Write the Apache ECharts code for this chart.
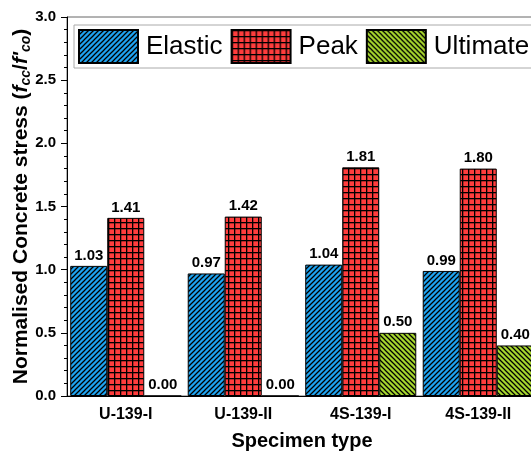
<!DOCTYPE html>
<html>
<head>
<meta charset="utf-8">
<script src="https://cdn.jsdelivr.net/npm/echarts@6/dist/echarts.min.js"></script>
<style>html,body{margin:0;padding:0;background:#fff}#c{width:531px;height:455px}</style>
</head>
<body>
<div id="c"></div>
<script>
const categories = ['U-139-I', 'U-139-II', '4S-139-I', '4S-139-II'];
const elastic = [1.03, 0.97, 1.04, 0.99];
const peak = [1.41, 1.42, 1.81, 1.80];
const ultimate = [0.00, 0.00, 0.50, 0.40];
const seriesNames = ['Elastic', 'Peak', 'Ultimate'];

const FONT = "'Liberation Sans', Arial, sans-serif";

function stripePattern(bg, dir) {
  const s = 5;
  const c = document.createElement('canvas');
  c.width = s; c.height = s;
  const g = c.getContext('2d');
  g.fillStyle = bg; g.fillRect(0, 0, s, s);
  g.strokeStyle = '#000'; g.lineWidth = 1.25;
  g.beginPath();
  if (dir === '/') {
    g.moveTo(-1, 1); g.lineTo(1, -1);
    g.moveTo(0, s); g.lineTo(s, 0);
    g.moveTo(s - 1, s + 1); g.lineTo(s + 1, s - 1);
  } else {
    g.moveTo(-1, s - 1); g.lineTo(1, s + 1);
    g.moveTo(0, 0); g.lineTo(s, s);
    g.moveTo(s - 1, -1); g.lineTo(s + 1, 1);
  }
  g.stroke();
  return { image: c, repeat: 'repeat' };
}
function gridPattern(bg) {
  const s = 6;
  const c = document.createElement('canvas');
  c.width = s; c.height = s;
  const g = c.getContext('2d');
  g.fillStyle = bg; g.fillRect(0, 0, s, s);
  g.fillStyle = '#000';
  g.fillRect(0, 0, 1.3, s);
  g.fillRect(0, 0, s, 1.3);
  return { image: c, repeat: 'repeat' };
}

const fills = [
  stripePattern('#1ea3f0', '/'),
  gridPattern('#ff3d3d'),
  stripePattern('#a6d62e', '\\')
];
const dataSets = [elastic, peak, ultimate];

const chart = echarts.init(document.getElementById('c'), null, { renderer: 'canvas' });
chart.setOption({
  animation: false,
  backgroundColor: '#fff',
  grid: {
    left: 67, top: 17, width: 470, height: 379,
    outerBoundsMode: 'none', containLabel: false,
    show: true, borderColor: '#666', borderWidth: 1, backgroundColor: 'transparent'
  },
  legend: {
    data: seriesNames,
    left: 74, top: 25, width: 480,
    itemWidth: 59, itemHeight: 33, itemGap: 8,
    padding: [4, 10, 4, 4],
    borderColor: '#aaa', borderWidth: 1,
    textStyle: { fontFamily: FONT, fontSize: 26, color: '#000', padding: [0, 0, 0, 3] },
    icon: 'rect'
  },
  xAxis: [{
    type: 'category',
    data: categories,
    name: 'Specimen type',
    nameLocation: 'middle',
    nameGap: 35,
    nameMoveOverlap: false,
    nameTextStyle: { fontFamily: FONT, fontSize: 20, fontWeight: 'bold', color: '#000' },
    axisLine: { lineStyle: { color: '#000', width: 1 } },
    axisTick: { alignWithLabel: true, length: 6, lineStyle: { color: '#000' } },
    axisLabel: { fontFamily: FONT, fontSize: 16, fontWeight: 'bold', color: '#000', margin: 11 }
  }, {
    type: 'category',
    data: categories,
    position: 'bottom',
    axisLine: { show: false },
    axisTick: { inside: true, length: 3, lineStyle: { color: '#000' } },
    axisLabel: { show: false }
  }],
  yAxis: {
    type: 'value',
    min: 0, max: 3, interval: 0.5,
    name: "{b|Normalised Concrete stress (}{i|f}{s|cc}{b|/}{i|f'}{s|co}{b|)}",
    nameLocation: 'middle',
    nameGap: 34,
    nameMoveOverlap: false,
    nameTextStyle: {
      fontFamily: FONT, fontSize: 21, fontWeight: 'bold', color: '#000',
      rich: {
        b: { fontFamily: FONT, fontSize: 21, fontWeight: 'bold', color: '#000', lineHeight: 24 },
        i: { fontFamily: FONT, fontSize: 21, fontWeight: 'bold', fontStyle: 'italic', color: '#000', lineHeight: 24 },
        s: { fontFamily: FONT, fontSize: 14, fontWeight: 'bold', fontStyle: 'italic', color: '#000', lineHeight: 24, verticalAlign: 'bottom', padding: [8, 0, 0, 0] }
      }
    },
    axisLine: { show: true, lineStyle: { color: '#000', width: 1 } },
    axisTick: { show: true, length: 6, lineStyle: { color: '#000' } },
    minorTick: { show: true, splitNumber: 5, length: 3, lineStyle: { color: '#000' } },
    splitLine: { show: false },
    axisLabel: { fontFamily: FONT, fontSize: 15, fontWeight: 'bold', color: '#000', margin: 11, formatter: v => v.toFixed(1) }
  },
  series: seriesNames.map((n, i) => ({
    name: n,
    type: 'bar',
    data: dataSets[i],
    barGap: '0%',
    barCategoryGap: '5.5%',
    itemStyle: { color: fills[i], borderColor: '#000', borderWidth: 1 },
    label: {
      show: true, position: 'top', distance: 3,
      fontFamily: FONT, fontSize: 15, fontWeight: 'bold', color: '#000',
      formatter: p => p.value.toFixed(2)
    }
  }))
});
</script>
</body>
</html>
